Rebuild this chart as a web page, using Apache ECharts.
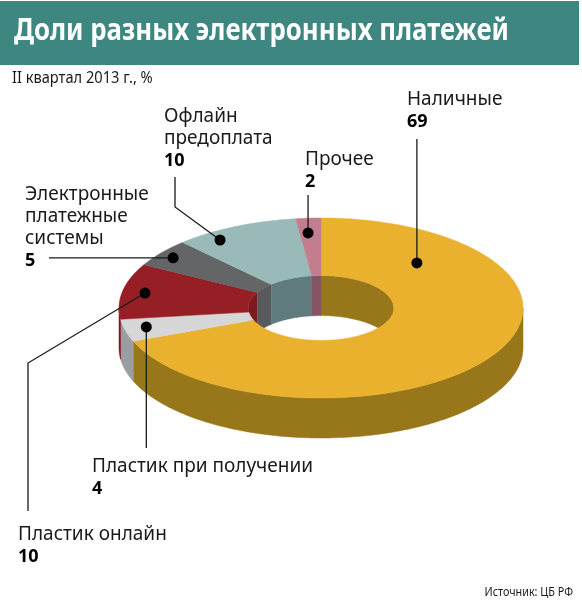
<!DOCTYPE html>
<html><head><meta charset="utf-8">
<script src="https://cdn.jsdelivr.net/npm/echarts@6/dist/echarts.min.js"></script>
<style>html,body{margin:0;padding:0;background:#fff}#c{width:582px;height:615px}</style>
</head><body><div id="c"></div>
<script>
// ---- data ----
const categories = ['Наличные', 'Пластик при получении', 'Пластик онлайн', 'Электронные\nплатежные\nсистемы', 'Офлайн\nпредоплата', 'Прочее'];
const values = [69, 4, 10, 5, 10, 2];
const titleText = 'Доли разных электронных платежей';
const subtitleText = 'II квартал 2013 г., %';
const sourceText = 'Источник: ЦБ РФ';

// ---- styles / layout ----
const FONT = 'Noto Sans';
const topColors  = ['#EAB12F', '#D6D6D6', '#961F26', '#646567', '#9AB9B9', '#C27E8F'];
const wallColors = ['#98761A', '#9A9EA3', '#7E1A1F', '#58595B', '#5F7B7D', '#855465'];
const G = { cx: 321, cy: 308, rx: 202, ry: 90, inner: 0.36, depth: 40 };
// dot: [fraction of segment angle, radius fraction]; path: leader points after the dot (null = take dot coord)
const labelLayout = [
  { x: 407, y: 89,  dot: [0.175, 0.69],  path: [[null, 139]] },
  { x: 92,  y: 456, dot: [0.55, 0.89],   path: [[null, 448]] },
  { x: 18,  y: 524, dot: [0.5, 0.887],   path: [[28, 363], [28, 511]] },
  { x: 25,  y: 184, dot: [0.47, 0.92],   path: [[49, null]] },
  { x: 164, y: 106, dot: [0.27, 0.906],  path: [[175, 207], [175, 177]] },
  { x: 305, y: 149, dot: [0.39, 0.836],  path: [[null, 195]] }
];

const total = values.reduce((a, b) => a + b, 0);
const starts = [];
values.reduce((acc, v, i) => { starts[i] = acc; return acc + v; }, 0);
const seriesData = values.map((v, i) => ({ name: categories[i], value: [starts[i], v] }));

function pt(theta, f, dy) {
  const r = theta * Math.PI / 180;
  return [G.cx + G.rx * f * Math.sin(r), G.cy - G.ry * f * Math.cos(r) + (dy || 0)];
}
function arc(a0, a1, f, dy) {
  const n = Math.max(2, Math.ceil(Math.abs(a1 - a0)));
  const pts = [];
  for (let i = 0; i <= n; i++) pts.push(pt(a0 + (a1 - a0) * i / n, f, dy));
  return pts;
}
function angles(api) {
  const s = api.value(0), v = api.value(1);
  return [s / total * 360, (s + v) / total * 360];
}
function clip(a0, a1, lo, hi) {
  const b0 = Math.max(a0, lo), b1 = Math.min(a1, hi);
  return b1 > b0 ? [b0, b1] : null;
}

function outerWall(params, api) {
  const [a0, a1] = angles(api);
  const i = params.dataIndex;
  const c = clip(a0, a1, 90, 270);
  const children = [];
  if (c) {
    children.push({ type: 'polygon', shape: { points: arc(c[0], c[1], 1, 0).concat(arc(c[1], c[0], 1, G.depth)) },
      style: { fill: wallColors[i], stroke: wallColors[i], lineWidth: 0.5 } });
  }
  return { type: 'group', children };
}
function innerWall(params, api) {
  const [a0, a1] = angles(api);
  const i = params.dataIndex;
  const children = [];
  [[270, 360], [0, 90]].forEach(r => {
    const c = clip(a0, a1, r[0], r[1]);
    if (c) children.push({ type: 'polygon', shape: { points: arc(c[0], c[1], G.inner, 0).concat(arc(c[1], c[0], G.inner, G.depth)) },
      style: { fill: wallColors[i], stroke: wallColors[i], lineWidth: 0.5 } });
  });
  return { type: 'group', children };
}
function topFace(params, api) {
  const [a0, a1] = angles(api);
  const i = params.dataIndex;
  return { type: 'polygon', shape: { points: arc(a0, a1, 1, 0).concat(arc(a1, a0, G.inner, 0)) },
    style: { fill: topColors[i], stroke: topColors[i], lineWidth: 0.5 } };
}
function labelItem(params, api) {
  const [a0, a1] = angles(api);
  const i = params.dataIndex;
  const L = labelLayout[i];
  const d = pt(a0 + (a1 - a0) * L.dot[0], L.dot[1], 0);
  const pts = [d].concat(L.path.map(p => [p[0] == null ? d[0] : p[0], p[1] == null ? d[1] : p[1]]));
  return { type: 'group', children: [
    { type: 'polyline', shape: { points: pts }, style: { stroke: '#1a1a1a', lineWidth: 1.3, fill: null } },
    { type: 'circle', shape: { cx: d[0], cy: d[1], r: 5.5 }, style: { fill: '#000' } },
    { type: 'text', x: L.x, y: L.y, style: {
        text: '{n|' + categories[i] + '}\n{v|' + api.value(1) + '}',
        verticalAlign: 'top', align: 'left',
        rich: {
          n: { fontFamily: FONT, fontSize: 19, lineHeight: 22, fill: '#1a1a1a' },
          v: { fontFamily: FONT, fontSize: 18, fontWeight: 'bold', lineHeight: 22, fill: '#000' }
        } } }
  ] };
}

const chart = echarts.init(document.getElementById('c'), null, { renderer: 'canvas' });
chart.setOption({
  animation: false,
  backgroundColor: '#fff',
  graphic: [
    { type: 'rect', shape: { x: 0, y: 1, width: 579, height: 64 }, style: { fill: '#3E8781' }, z: 0 },
    { type: 'text', x: 14, y: 31, scaleX: 0.86, style: { text: titleText, fill: '#fff', fontFamily: FONT, fontSize: 30, fontWeight: 'bold', verticalAlign: 'middle' } },
    { type: 'text', x: 12, y: 78, scaleX: 0.86, style: { text: subtitleText, fill: '#1a1a1a', fontFamily: FONT, fontSize: 17, verticalAlign: 'middle' } },
    { type: 'text', x: 573, y: 593, scaleX: 0.9, style: { text: sourceText, fill: '#1a1a1a', fontFamily: FONT, fontSize: 12, align: 'right', verticalAlign: 'middle' } }
  ],
  series: [
    { type: 'custom', coordinateSystem: 'none', z: 1, renderItem: outerWall, data: seriesData, silent: true },
    { type: 'custom', coordinateSystem: 'none', z: 2, renderItem: innerWall, data: seriesData, silent: true },
    { type: 'custom', coordinateSystem: 'none', z: 3, renderItem: topFace, data: seriesData, silent: true },
    { type: 'custom', coordinateSystem: 'none', z: 4, renderItem: labelItem, data: seriesData, silent: true }
  ]
});
</script></body></html>
